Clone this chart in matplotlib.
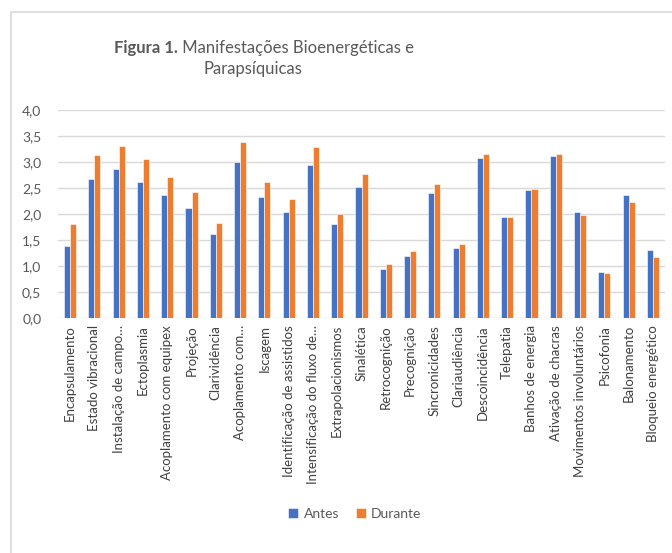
import matplotlib
matplotlib.use("Agg")
import matplotlib.pyplot as plt
from matplotlib.patches import Rectangle
import numpy as np

categories = [
    "Encapsulamento", "Estado vibracional", "Instalação de campo…", "Ectoplasmia",
    "Acoplamento com equipex", "Projeção", "Clarividência", "Acoplamento com…",
    "Iscagem", "Identificação de assistidos", "Intensificação do fluxo de…",
    "Extrapolacionismos", "Sinalética", "Retrocognição", "Precognição",
    "Sincronicidades", "Clariaudiência", "Descoincidência", "Telepatia",
    "Banhos de energia", "Ativação de chacras", "Movimentos involuntários",
    "Psicofonia", "Balonamento", "Bloqueio energético",
]
antes = [1.38, 2.67, 2.86, 2.62, 2.37, 2.12, 1.62, 3.00, 2.32, 2.03, 2.94,
         1.81, 2.52, 0.94, 1.19, 2.40, 1.35, 3.08, 1.94, 2.47, 3.12, 2.03,
         0.89, 2.37, 1.31]
durante = [1.81, 3.13, 3.31, 3.06, 2.72, 2.42, 1.83, 3.38, 2.62, 2.29, 3.29,
           2.00, 2.76, 1.04, 1.28, 2.57, 1.42, 3.15, 1.95, 2.49, 3.15, 1.99,
           0.86, 2.24, 1.18]
series_names = ["Antes", "Durante"]
yticks = [0.0, 0.5, 1.0, 1.5, 2.0, 2.5, 3.0, 3.5, 4.0]

plt.rcParams['font.family'] = ['Lato', 'DejaVu Sans']
W, H = 672, 553
fig = plt.figure(figsize=(W / 100, H / 100), dpi=100)
fig.patch.set_facecolor('white')

# chart border
fig.patches.append(Rectangle((11 / W, -0.1), 1.2, (H - 12) / H + 0.1,
                             transform=fig.transFigure, fill=False,
                             edgecolor='#d9d9d9', linewidth=1.2))

ax = fig.add_axes([58 / W, (H - 318) / H, 607 / W, 208 / H])
n = len(categories)
x = np.arange(n)
bw = 0.25
ax.bar(x - bw / 2, antes, bw, color='#4472C4', edgecolor='white', linewidth=0.4,
       label=series_names[0], zorder=3)
ax.bar(x + bw / 2, durante, bw, color='#ED7D31', edgecolor='white', linewidth=0.4,
       label=series_names[1], zorder=3)
ax.set_xlim(-0.5, n - 0.5)
ax.set_ylim(0, 4.0)
ax.set_yticks(yticks)
ax.set_yticklabels([f"{v:.1f}".replace('.', ',') for v in yticks],
                   fontsize=10, color='#595959')
ax.yaxis.grid(True, color='#d9d9d9', linewidth=1, zorder=0)
ax.set_axisbelow(True)
for s in ax.spines.values():
    s.set_visible(False)
ax.tick_params(axis='y', length=0, pad=12)
ax.tick_params(axis='x', length=0, pad=5)
ax.set_xticks(x)
ax.set_xticklabels(categories, rotation=90, fontsize=9.5, color='#404040')

leg = ax.legend(loc='upper center', ncol=2,
                frameon=False, fontsize=10, handlelength=0.7, handleheight=0.7,
                columnspacing=1.2, handletextpad=0.4, labelcolor='#595959')
leg.set_bbox_to_anchor((355 / W, (H - 495) / H), transform=fig.transFigure)

# title with bold prefix
fig.canvas.draw()
r = fig.canvas.get_renderer()
fs = 12
t1 = fig.text(0, 0, "Figura 1.", fontsize=fs, fontweight='bold', color='#595959')
t2 = fig.text(0, 0, " Manifestações Bioenergéticas e", fontsize=fs, color='#595959')
w1 = t1.get_window_extent(r).width
w2 = t2.get_window_extent(r).width
cx = 264
x0 = cx - (w1 + w2) / 2
ybase = H - 53
t1.set_position((x0 / W, ybase / H))
t2.set_position(((x0 + w1) / W, ybase / H))
t1.set_va('baseline')
t2.set_va('baseline')
fig.text(253 / W, (H - 74) / H, "Parapsíquicas", fontsize=fs, color='#595959',
         ha='center', va='baseline')

fig.savefig("out.png", dpi=100, facecolor='white')
